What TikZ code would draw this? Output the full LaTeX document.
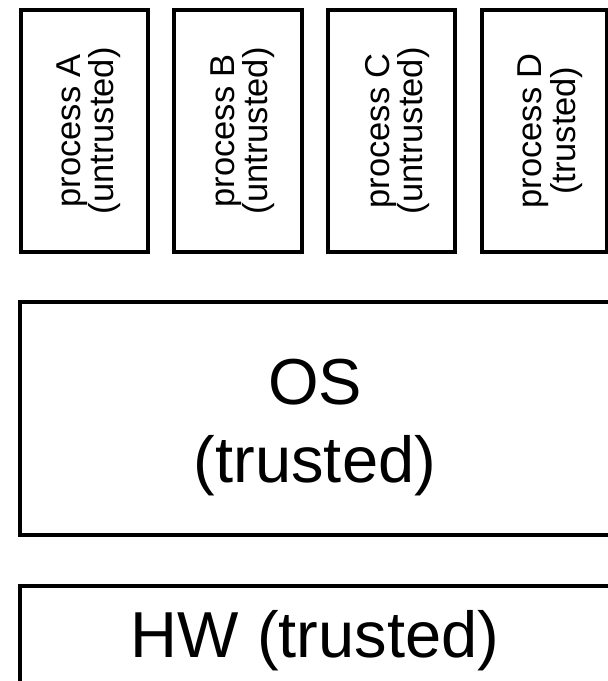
\documentclass[tikz,border=0pt]{standalone}
\usepackage{fontspec}
\setmainfont{Liberation Sans}
\begin{document}
\begin{tikzpicture}[x=1pt,y=-1pt,
  box/.style={draw=black, line width=4pt, inner sep=0pt, outer sep=0pt},
  proc/.style={rotate=90, align=center, inner sep=0pt, font=\fontsize{34.5}{30}\selectfont},
  big/.style={align=center, inner sep=0pt, font=\fontsize{65}{78}\selectfont}]
\useasboundingbox (0,0) rectangle (608,681);
\clip (0,0) rectangle (608,681);
\fill[white] (0,0) rectangle (608,681);
% process boxes
\node[box, minimum width=127pt,   minimum height=242.5pt] (A) at (84.5,130.75) {};
\node[box, minimum width=128.5pt, minimum height=242.5pt] (B) at (237.75,130.75) {};
\node[box, minimum width=127.5pt, minimum height=242.5pt] (C) at (391.25,130.75) {};
\node[box, minimum width=125.5pt, minimum height=242.5pt] (D) at (544.25,130.75) {};
\node[proc] (tA) at ([xshift=4.5pt]A.center) {process A\\(untrusted)};
\node[proc] (tB) at ([xshift=5pt]B.center) {process B\\(untrusted)};
\node[proc] (tC) at ([xshift=6pt]C.center) {process C\\(untrusted)};
\node[proc] (tD) at ([xshift=6pt]D.center) {process D\\(trusted)};
% OS and HW
\node[box, minimum width=589.5pt, minimum height=233.5pt] (OS) at (314.75,418.25) {};
\node[box, minimum width=589.5pt, minimum height=114pt] (HW) at (314.75,643) {};
\node[big] (tOS) at (315,427.5) {OS\\(trusted)};
\node[big] (tHW) at (315,641) {HW (trusted)};
\end{tikzpicture}
\end{document}
